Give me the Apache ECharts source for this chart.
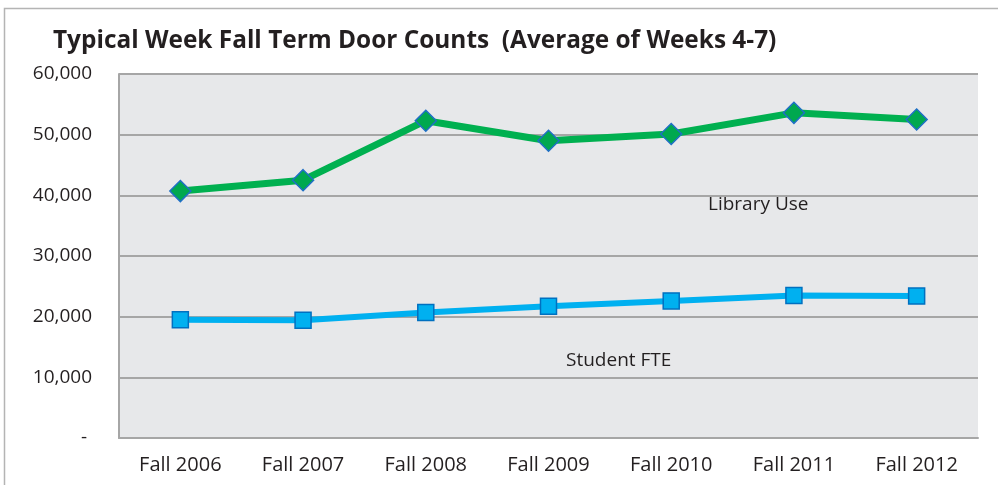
<!DOCTYPE html>
<html>
<head>
<meta charset="utf-8">
<script src="https://cdn.jsdelivr.net/npm/echarts@6/dist/echarts.min.js"></script>
<style>
html,body{margin:0;padding:0;background:#fff;}
#chart{width:998px;height:485px;}
</style>
</head>
<body>
<div id="chart"></div>
<script>
var categories = ['Fall 2006','Fall 2007','Fall 2008','Fall 2009','Fall 2010','Fall 2011','Fall 2012'];
var libraryUse = [40700, 42500, 52300, 49000, 50100, 53600, 52500];
var studentFTE = [19500, 19400, 20700, 21700, 22600, 23500, 23400];
var yTicks = [0, 10000, 20000, 30000, 40000, 50000, 60000];

var FONT = '"Open Sans", sans-serif';
var chart = echarts.init(document.getElementById('chart'), null, {renderer:'canvas'});
chart.setOption({
  backgroundColor: '#ffffff',
  animation: false,
  title: {
    text: 'Typical Week Fall Term Door Counts  (Average of Weeks 4-7)',
    left: 48, top: 24,
    textStyle: {fontFamily: FONT, fontWeight: 'bold', fontSize: 24.4, color: '#231f20'}
  },
  grid: {
    left: 119, top: 74, right: 20, bottom: 47,
    containLabel: false,
    show: true, backgroundColor: '#e7e8ea', borderWidth: 0
  },
  xAxis: {
    type: 'category',
    data: categories,
    boundaryGap: true,
    axisLine: {show: true, lineStyle: {color: '#a6a6a6', width: 2}},
    axisTick: {show: false},
    axisLabel: {fontFamily: FONT, fontSize: 20, color: '#231f20', margin: 17}
  },
  yAxis: {
    type: 'value',
    min: yTicks[0], max: yTicks[yTicks.length-1], interval: 10000,
    axisLine: {show: true, lineStyle: {color: '#a6a6a6', width: 2}},
    axisTick: {show: false},
    splitLine: {show: true, lineStyle: {color: '#a6a6a6', width: 2}},
    axisLabel: {
      fontFamily: FONT, fontSize: 19, color: '#231f20', margin: 27,
      formatter: function (v) { return v === 0 ? '- ' : v.toLocaleString('en-US'); }
    }
  },
  series: [
    {
      name: 'Library Use',
      type: 'line',
      data: libraryUse,
      symbol: 'diamond',
      symbolSize: 21,
      lineStyle: {color: '#00b050', width: 7},
      itemStyle: {color: '#00a84f', borderColor: '#1f6fc5', borderWidth: 1.5},
      z: 3
    },
    {
      name: 'Student FTE',
      type: 'line',
      data: studentFTE,
      symbol: 'rect',
      symbolSize: 16,
      lineStyle: {color: '#00b0f0', width: 6},
      itemStyle: {color: '#00b0f0', borderColor: '#0070c0', borderWidth: 1.5},
      z: 3
    }
  ],
  graphic: [
    {type: 'polyline', shape: {points: [[4.5, 485], [4.5, 8.5], [998, 8.5]]},
     style: {stroke: '#b4b4b4', lineWidth: 1.5, fill: null}, silent: true},
    {type: 'text', left: 708, top: 195,
     style: {text: 'Library Use', font: '19px "Open Sans", sans-serif', fill: '#231f20'}},
    {type: 'text', left: 566, top: 351,
     style: {text: 'Student FTE', font: '19px "Open Sans", sans-serif', fill: '#231f20'}}
  ]
});
</script>
</body>
</html>
